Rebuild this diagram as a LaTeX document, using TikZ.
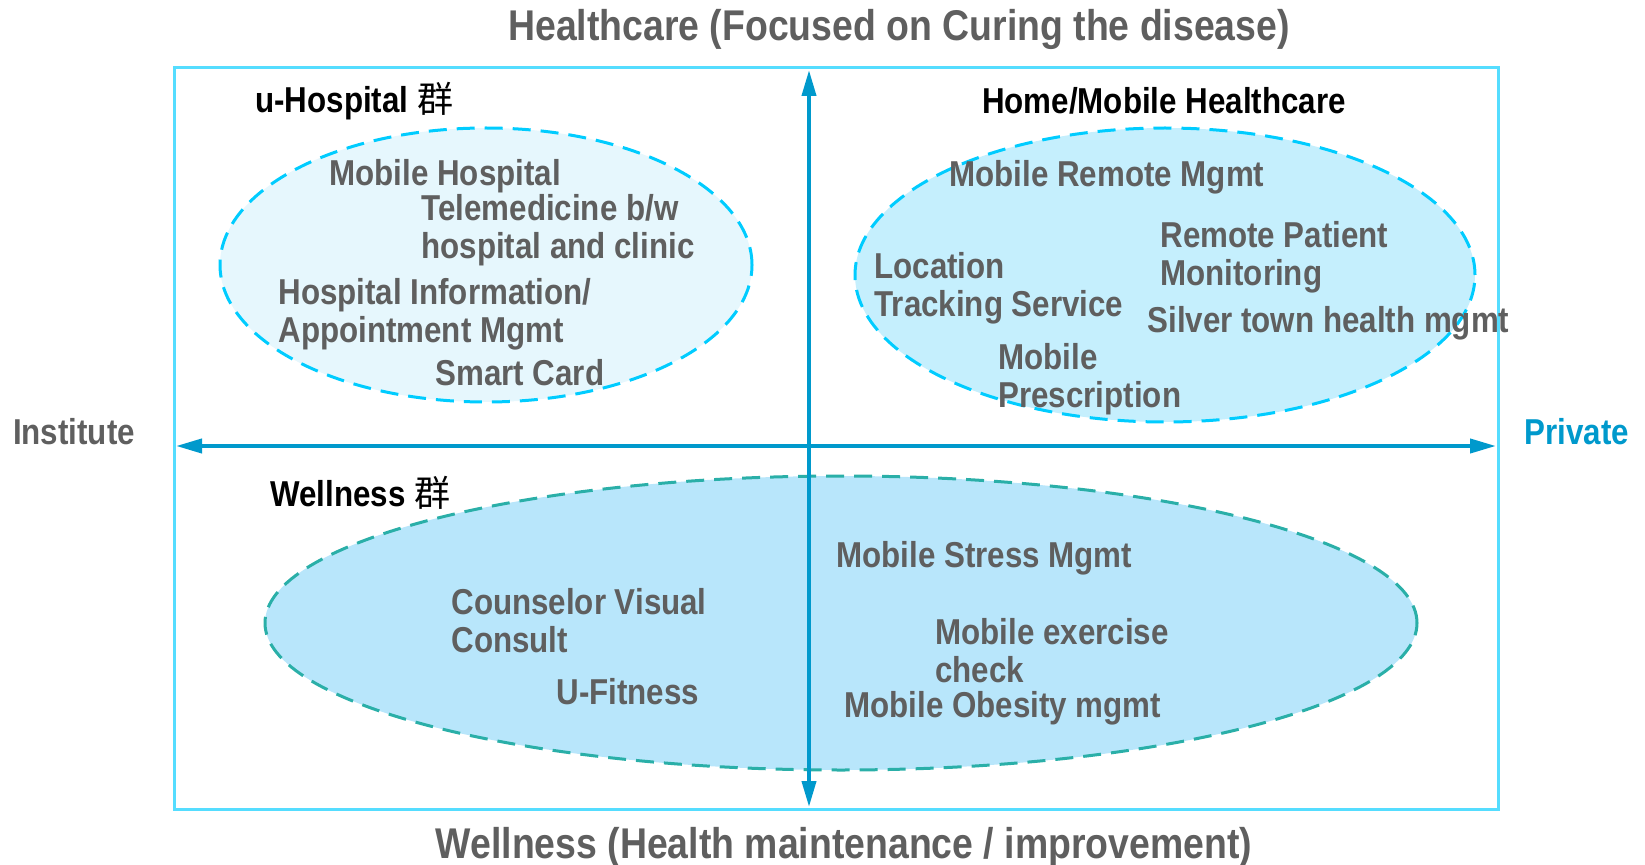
\documentclass[tikz,border=0pt]{standalone}
\usepackage{fontspec}
\setmainfont{Liberation Sans}[FakeStretch=0.87]
\newfontfamily\cjk{Noto Sans CJK KR}
\usetikzlibrary{arrows.meta,positioning}
\definecolor{txtgray}{RGB}{95,95,95}
\definecolor{framecyan}{RGB}{85,221,255}
\definecolor{axisblue}{RGB}{0,153,204}
\definecolor{dashcyan}{RGB}{0,204,255}
\definecolor{dashteal}{RGB}{42,175,168}
\definecolor{fillone}{RGB}{230,247,253}
\definecolor{filltwo}{RGB}{197,239,253}
\definecolor{fillthree}{RGB}{184,230,251}

\begin{document}
\begin{tikzpicture}[x=0.5pt,y=0.5pt,
  item/.style={anchor=west,align=left,inner sep=0pt,text=txtgray,
    font=\fontsize{18}{19}\selectfont\bfseries},
  group/.style={anchor=west,inner sep=0pt,font=\fontsize{18}{19}\selectfont\bfseries},
  heading/.style={inner sep=0pt,text=txtgray,font=\fontsize{21.5}{23}\selectfont\bfseries},
  side/.style={inner sep=0pt,text=txtgray,font=\fontsize{18}{19}\selectfont\bfseries},
  axis/.style={axisblue,line width=2pt,{Triangle[length=13pt,width=7pt]}-{Triangle[length=13pt,width=7pt]}},
  blob/.style={line width=1.5pt,dash pattern=on 9pt off 5pt}]
  \useasboundingbox (0,0) rectangle (1645,864);

  % clusters
  \draw[blob,dashcyan,fill=fillone] (486,599) ellipse [x radius=266,y radius=137];
  \draw[blob,dashcyan,fill=filltwo] (1165,589) ellipse [x radius=310,y radius=147];
  \draw[blob,dashteal,fill=fillthree] (841,241) ellipse [x radius=576,y radius=147];

  % frame and axes
  \draw[framecyan,line width=1.5pt] (174,55) rectangle (1498,796);
  \coordinate (west) at (176,418);
  \coordinate (east) at (1496,418);
  \coordinate (north) at (809,794);
  \coordinate (south) at (809,57);
  \draw[axis] (west) -- (east);
  \draw[axis] (north) -- (south);

  \node[heading] (top) at (899,835) {Healthcare (Focused on Curing the disease)};
  \node[heading] (bottom) at (844,17) {Wellness (Health maintenance / improvement)};
  \node[side] (inst) at (74,432) {Institute};
  \node[side,text=axisblue] (priv) at (1577,432) {Private};

  \node[group] (uhosp) at (255,763) {u-Hospital {\cjk\mdseries 群}};
  \node[group,anchor=center] (homemob) at (1164,763) {Home/Mobile Healthcare};
  \node[group] (well) at (270,371) {Wellness {\cjk\mdseries 群}};

  % u-Hospital
  \node[item] (mobhosp) at (329,688) {Mobile Hospital};
  \node[item] (tele) at (421,634) {Telemedicine b/w\\hospital and clinic};
  \node[item] (hinfo) at (278,550) {Hospital Information/\\Appointment Mgmt};
  \node[item] (smart) at (435,491) {Smart Card};

  % home / mobile
  \node[item] (remote) at (949,687) {Mobile Remote Mgmt};
  \node[item] (patient) at (1160,607) {Remote Patient\\Monitoring};
  \node[item] (loc) at (874,576) {Location\\Tracking Service};
  \node[item] (silver) at (1147,541) {Silver town health mgmt};
  \node[item] (presc) at (998,485) {Mobile\\Prescription};

  % wellness
  \node[item] (stress) at (836,306) {Mobile Stress Mgmt};
  \node[item] (couns) at (451,243) {Counselor Visual\\Consult};
  \node[item] (fit) at (556,172) {U-Fitness};
  \node[item] (exer) at (935,213) {Mobile exercise\\check};
  \node[item] (obes) at (844,156) {Mobile Obesity mgmt};
\end{tikzpicture}
\end{document}
